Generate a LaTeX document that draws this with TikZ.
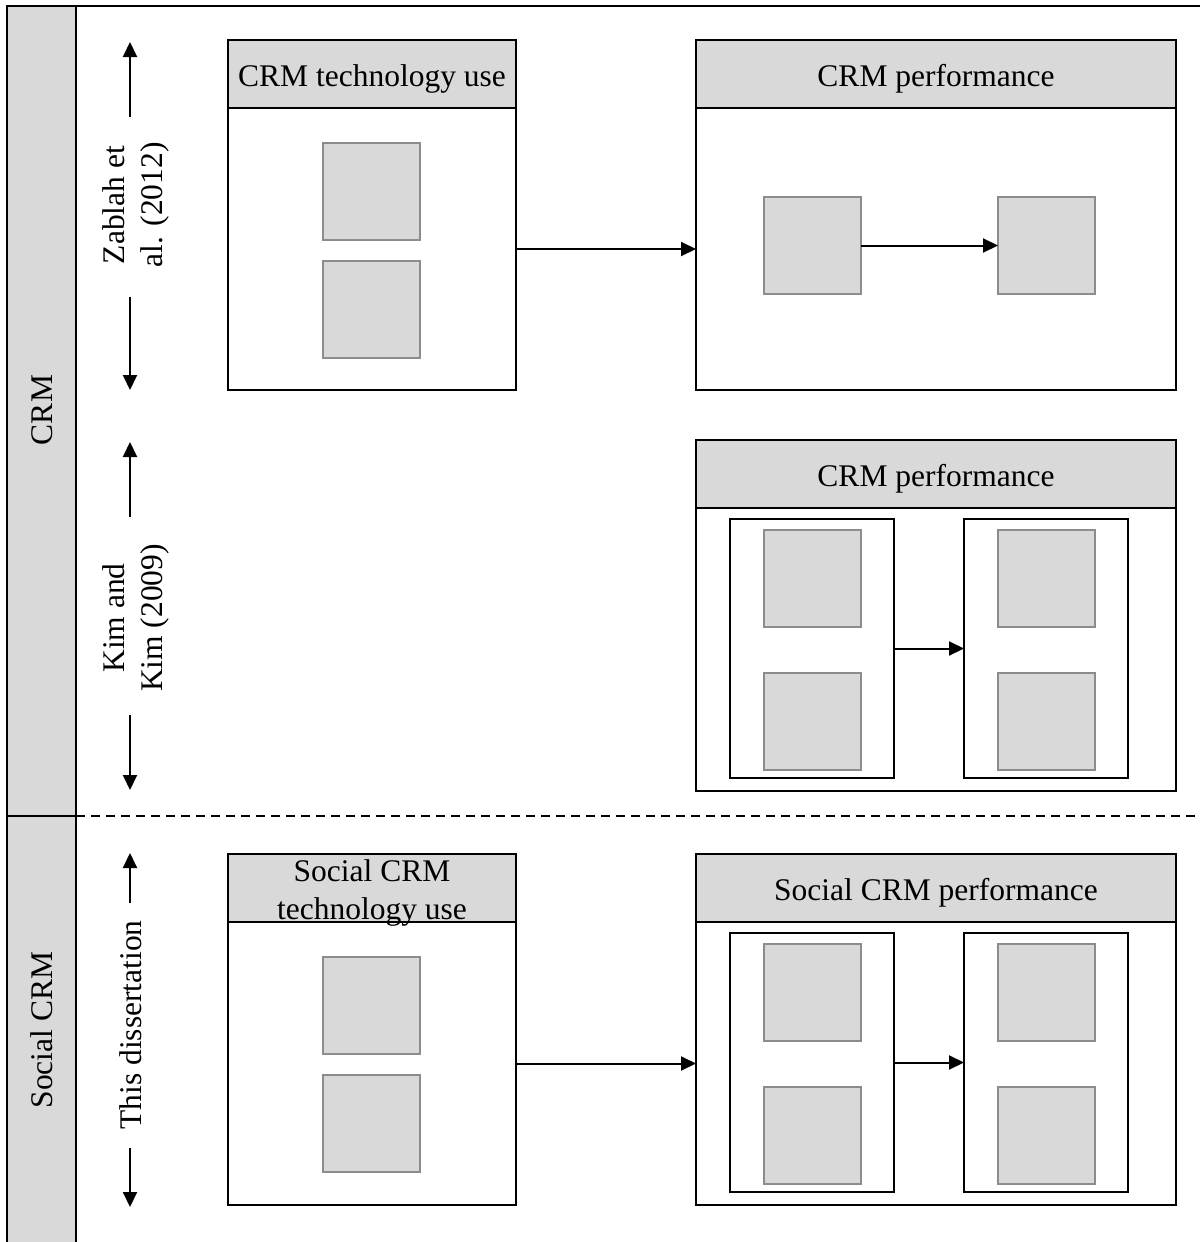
\documentclass[tikz,border=0pt]{standalone}
\usepackage{fontspec}
\setmainfont{Liberation Serif}
\usetikzlibrary{arrows.meta}
\definecolor{panelgray}{HTML}{D9D9D9}
\definecolor{itemedge}{HTML}{8C8C8C}
\begin{document}
\begin{tikzpicture}[x=1pt,y=-1pt,
  every node/.style={font=\fontsize{31.5}{38}\selectfont, inner sep=0pt, outer sep=0pt},
  hdr/.style={draw, fill=panelgray, line width=2.4pt, anchor=north west},
  htext/.style={align=center},
  body/.style={draw, fill=white, line width=2.4pt, anchor=north west},
  sub/.style={draw, fill=white, line width=2.4pt, anchor=north west, minimum width=164pt, minimum height=259pt},
  item/.style={draw=itemedge, fill=panelgray, line width=2.2pt, anchor=north west, minimum width=97pt, minimum height=97pt},
  arr/.style={line width=2pt, -{Triangle[length=15pt,width=14pt]}},
  side/.style={rotate=90, align=center},
]
\useasboundingbox (0,0) rectangle (1200,1242);

% left band and frame
\fill[panelgray] (7,6) rectangle (76,1242);
\draw[line width=2.6pt] (7,1242) -- (7,6) -- (1200,6);
\draw[line width=2.6pt] (76,6) -- (76,1242);
\draw[line width=2.4pt] (7,816) -- (76,816);
\draw[line width=2pt, dash pattern=on 9pt off 6pt] (76,816) -- (1200,816);

\node[side] (crm) at (42,410) {CRM};
\node[side] (scrm) at (42,1030) {Social CRM};

% study labels with extent arrows
\node[side] (zab) at (136,205) {Zablah et\\al. (2012)};
\node[side] (kim) at (136,618) {Kim and\\Kim (2009)};
\node[side] (diss) at (131,1025) {This dissertation};
\coordinate (za) at (130,117); \coordinate (zb) at (130,42);
\coordinate (zc) at (130,297); \coordinate (zd) at (130,390);
\coordinate (ka) at (130,517); \coordinate (kb) at (130,442);
\coordinate (kc) at (130,715); \coordinate (kd) at (130,790);
\coordinate (da) at (130,903); \coordinate (db) at (130,853);
\coordinate (dc) at (130,1148); \coordinate (dd) at (130,1207);
\draw[arr] (za) -- (zb);
\draw[arr] (zc) -- (zd);
\draw[arr] (ka) -- (kb);
\draw[arr] (kc) -- (kd);
\draw[arr] (da) -- (db);
\draw[arr] (dc) -- (dd);

% Zablah et al. (2012)
\node[hdr, minimum width=288pt, minimum height=68pt] (h1) at (228,40) {};
\node[htext] (t1) at ([yshift=-5pt]h1.center) {CRM technology use};
\node[body, minimum width=288pt, minimum height=282pt] (b1) at (228,108) {};
\node[item] (i11) at (323,143) {};
\node[item] (i12) at (323,261) {};
\node[hdr, minimum width=480pt, minimum height=68pt] (h2) at (696,40) {};
\node[htext] (t2) at ([yshift=-5pt]h2.center) {CRM performance};
\node[body, minimum width=480pt, minimum height=282pt] (b2) at (696,108) {};
\node[item] (i21) at (764,197) {};
\node[item] (i22) at (998,197) {};
\draw[arr] (b1.east) -- (b2.west);
\draw[arr] (i21.east) -- (i22.west);

% Kim and Kim (2009)
\node[hdr, minimum width=480pt, minimum height=68pt] (h3) at (696,440) {};
\node[htext] (t3) at ([yshift=-5pt]h3.center) {CRM performance};
\node[body, minimum width=480pt, minimum height=283pt] (b3) at (696,508) {};
\node[sub] (s31) at (730,519) {};
\node[sub] (s32) at (964,519) {};
\node[item] (i31) at (764,530) {};
\node[item] (i32) at (764,673) {};
\node[item] (i33) at (998,530) {};
\node[item] (i34) at (998,673) {};
\draw[arr] (s31.east) -- (s32.west);

% This dissertation
\node[hdr, minimum width=288pt, minimum height=68pt] (h4) at (228,854) {};
\node[body, minimum width=288pt, minimum height=283pt] (b4) at (228,922) {};
\node[htext] (t4) at ([yshift=-5pt]h4.center) {Social CRM\\technology use};
\node[item] (i41) at (323,957) {};
\node[item] (i42) at (323,1075) {};
\node[hdr, minimum width=480pt, minimum height=68pt] (h5) at (696,854) {};
\node[htext] (t5) at ([yshift=-5pt]h5.center) {Social CRM performance};
\node[body, minimum width=480pt, minimum height=283pt] (b5) at (696,922) {};
\node[sub] (s51) at (730,933) {};
\node[sub] (s52) at (964,933) {};
\node[item] (i51) at (764,944) {};
\node[item] (i52) at (764,1087) {};
\node[item] (i53) at (998,944) {};
\node[item] (i54) at (998,1087) {};
\draw[arr] (b4.east) -- (b5.west);
\draw[arr] (s51.east) -- (s52.west);
\end{tikzpicture}
\end{document}
